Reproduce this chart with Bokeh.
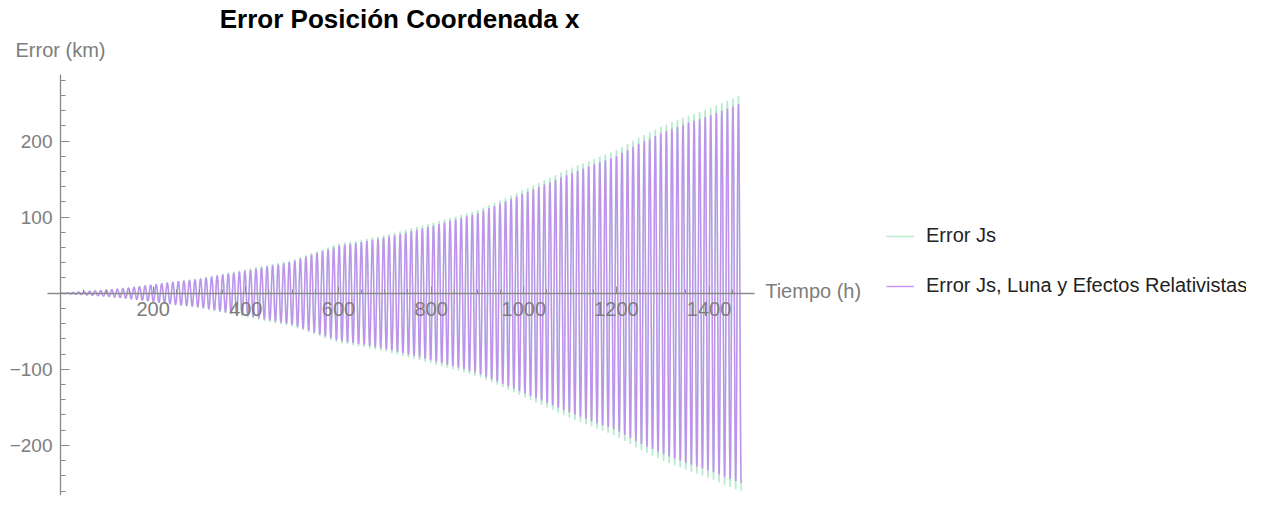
import numpy as np
from bokeh.plotting import figure
from bokeh.models import Range1d, FixedTicker, Label, Legend, LegendItem
from bokeh.embed import file_html
from bokeh.resources import INLINE

# ---------------- data ----------------
title_text = "Error Posición Coordenada x"
x_label = "Tiempo (h)"
y_label = "Error (km)"
series_names = ["Error Js", "Error Js, Luna y Efectos Relativistas"]

# amplitude envelope of the oscillating error (hours -> km)
env_t = [0, 50, 100, 150, 200, 250, 300, 350, 400, 450, 500, 550, 600, 650, 700,
         750, 800, 850, 900, 950, 1000, 1050, 1100, 1150, 1200, 1250, 1300, 1350, 1400, 1470]
env_js = [0, 2, 4, 7, 11, 15, 19, 25, 31, 37, 43, 54, 65, 70, 76,
          84, 92, 100, 109, 122, 136, 150, 164, 176, 188, 205, 220, 232, 243, 261]
env_luna = [0, 2, 4, 7, 11, 15, 18, 24, 29, 35, 41, 52, 62, 67, 73,
            80, 88, 96, 105, 118, 131, 144, 157, 169, 180, 197, 211, 223, 233, 250]
orbit_period_h = 11.97   # oscillation period seen in the picture
t_end = 1469.3

x_ticks = [200, 400, 600, 800, 1000, 1200, 1400]
x_minor = [50, 100, 150, 250, 300, 350, 450, 500, 550, 650, 700, 750, 850, 900, 950,
           1050, 1100, 1150, 1250, 1300, 1350, 1450]
y_ticks = [-200, -100, 100, 200]
y_minor = [-280, -260, -240, -220, -180, -160, -140, -120, -80, -60, -40, -20,
           20, 40, 60, 80, 120, 140, 160, 180, 220, 240, 260, 280]

# ---------------- build series ----------------
t = np.arange(0, t_end + 0.001, 0.2)
carrier = np.sin(2 * np.pi * t / orbit_period_h)
y_js = np.interp(t, env_t, env_js) * carrier
y_luna = np.interp(t, env_t, env_luna) * carrier

# ---------------- figure ----------------
W, H = 1246, 495
px_per_h = 0.4633
px_per_km = 0.761
x0_px = 60.0      # pixel of t=0 inside the figure
y0_px = 292.7     # pixel (from top) of error=0 inside the figure

FONT = "Liberation Sans"
GRAY = "#7d7d7d"
AXC = "#8a8a8a"

p = figure(width=W, height=H, output_backend="svg", toolbar_location=None,
           x_range=Range1d(-x0_px / px_per_h, (W - x0_px) / px_per_h),
           y_range=Range1d(-(H - y0_px) / px_per_km, y0_px / px_per_km),
           min_border=0, min_border_left=0, min_border_right=0,
           min_border_top=0, min_border_bottom=0)
p.outline_line_color = None
p.grid.visible = False
p.background_fill_color = "white"
p.border_fill_color = "white"

r_js = p.line(t, y_js, line_color="#8ee2b2", line_alpha=0.65, line_width=1.5)
r_luna = p.line(t, y_luna, line_color="#c27cf7", line_alpha=0.8, line_width=1.5)

# axes crossing at the origin
xa = p.xaxis[0]
xa.fixed_location = 0
xa.bounds = (-28, 1498)
xa.ticker = FixedTicker(ticks=x_ticks, minor_ticks=x_minor)
xa.major_tick_in = 7
xa.major_tick_out = 0
xa.minor_tick_in = 4
xa.minor_tick_out = 0
xa.major_label_standoff = 9
xa.major_label_text_font = FONT
xa.major_label_text_font_size = "20px"
xa.major_label_text_color = GRAY
xa.axis_line_color = AXC
xa.major_tick_line_color = AXC
xa.minor_tick_line_color = AXC
xa.axis_line_width = 1.3

ya = p.yaxis[0]
ya.fixed_location = 0
ya.bounds = (-300, 287)
ya.ticker = FixedTicker(ticks=y_ticks, minor_ticks=y_minor)
ya.major_tick_in = 9
ya.major_tick_out = 0
ya.minor_tick_in = 5
ya.minor_tick_out = 0
ya.major_label_standoff = 8
ya.major_label_text_font = FONT
ya.major_label_text_font_size = "19px"
ya.major_label_text_color = GRAY
ya.major_label_overrides = {-200: "\u2212200", -100: "\u2212100"}
ya.axis_line_color = AXC
ya.major_tick_line_color = AXC
ya.minor_tick_line_color = AXC
ya.axis_line_width = 1.3

# titles / axis labels
p.add_layout(Label(x=732, y=360, text=title_text, text_font=FONT, text_font_size="26px",
                   text_font_style="bold", text_color="black",
                   text_align="center", text_baseline="middle"))
p.add_layout(Label(x=0, y=320, text=y_label, text_font=FONT, text_font_size="20px",
                   text_color=GRAY, text_align="center", text_baseline="middle"))
p.add_layout(Label(x=1521, y=3, text=x_label, text_font=FONT, text_font_size="20px",
                   text_color=GRAY, text_align="left", text_baseline="middle"))

legend = Legend(items=[LegendItem(label=series_names[0], renderers=[r_js]),
                       LegendItem(label=series_names[1], renderers=[r_luna])],
                location=(876, 188), orientation="vertical",
                glyph_width=28, glyph_height=20, label_height=20,
                label_standoff=12, spacing=27, padding=10,
                label_text_font=FONT, label_text_font_size="20px",
                label_text_color="#222222",
                border_line_alpha=0, background_fill_alpha=0)
p.add_layout(legend, "center")

open("out.html", "w").write(file_html(p, INLINE))
